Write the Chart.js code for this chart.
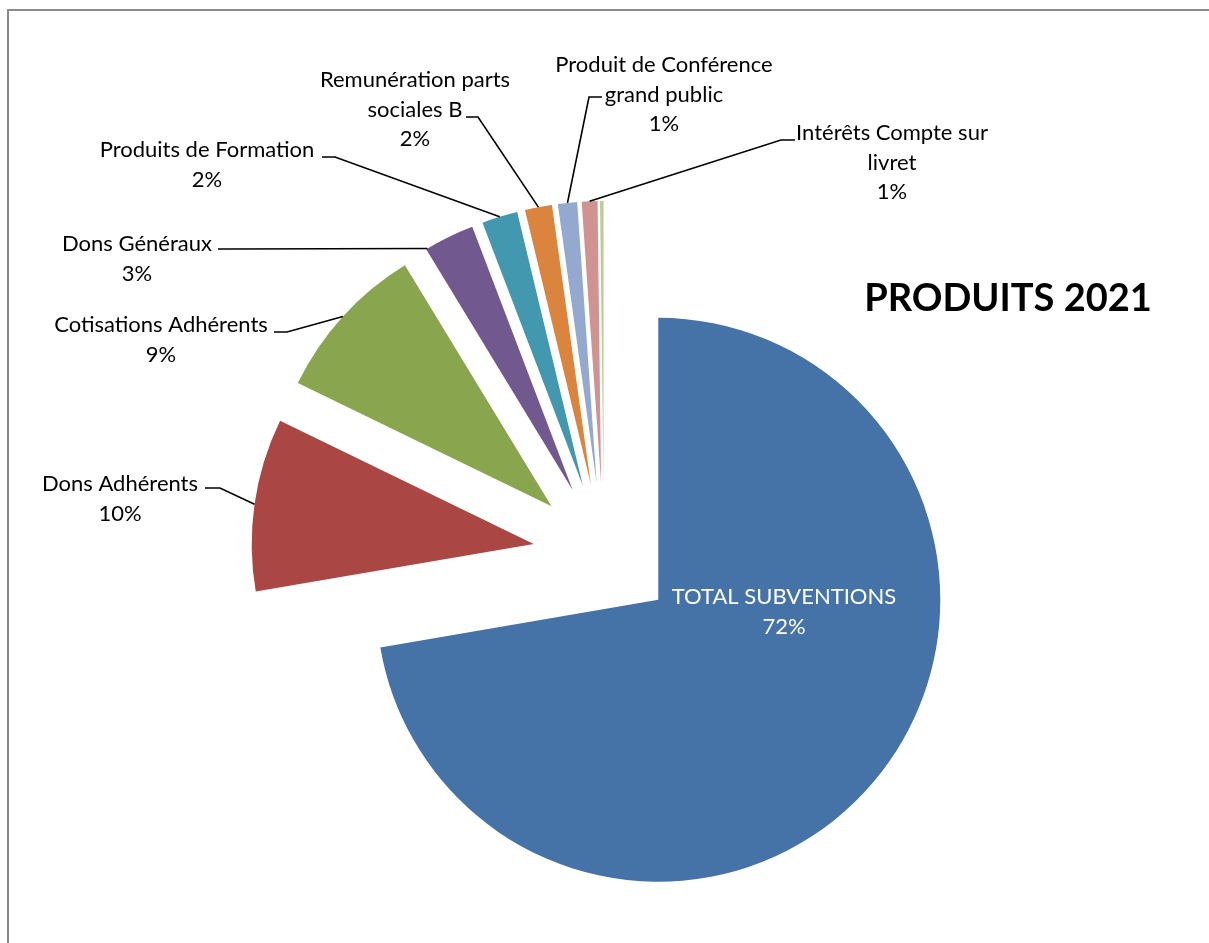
<!DOCTYPE html>
<html>
<head>
<meta charset="utf-8">
<script src="https://cdn.jsdelivr.net/npm/chart.js@4/dist/chart.umd.min.js"></script>
<style>
  html, body { margin: 0; padding: 0; background: #fff; }
  #wrap { position: relative; width: 1209px; height: 943px; overflow: hidden; }
</style>
</head>
<body>
<div id="wrap"><canvas id="produitsChart" width="1209" height="943"></canvas></div>
<script>
// data (percent of total)
const categories = [
  "TOTAL SUBVENTIONS",
  "Dons Adhérents",
  "Cotisations Adhérents",
  "Dons Généraux",
  "Produits de Formation",
  "Remunération parts sociales B",
  "Produit de Conférence grand public",
  "Intérêts Compte sur livret",
  "Autres"
];
const values = [72.3, 9.9, 9.1, 2.9, 2.05, 1.55, 1.1, 0.9, 0.2];
const colors = ["#4572A7", "#AA4643", "#89A54E", "#71588F", "#4198AF", "#DB843D", "#93A9CF", "#D19392", "#B9CD96"];

// label placement (x = centre of text block, y = first line, stub = elbow of leader line)
const labelLayout = [
  { x: 784, y: 597, wrap: 400, color: "#fff" },
  { x: 120, y: 484, wrap: 400, stub: [205, 220, 488], at: 0.5 },
  { x: 161, y: 325, wrap: 400, stub: [274, 287, 332], at: 0.5 },
  { x: 137, y: 244, wrap: 400, stub: [218, 231, 249], at: 0.03 },
  { x: 207, y: 150, wrap: 400, stub: [322, 335, 157], at: 0.5 },
  { x: 415, y: 80, wrap: 200, stub: [466, 478, 117], at: 0.5 },
  { x: 664, y: 65, wrap: 240, stub: [602, 589, 97], at: 0.5 },
  { x: 892, y: 133, wrap: 210, stub: [795, 781, 140], at: 0.5 },
  null
];

const EXPLODE = 71;
const FONT = "22px Lato";
const LINE_H = 29.5;

function wrapText(ctx, text, maxW) {
  const words = text.split(" ");
  const lines = [];
  let cur = "";
  words.forEach(w => {
    const test = cur ? cur + " " + w : w;
    if (cur && ctx.measureText(test).width > maxW) {
      lines.push(cur);
      cur = w;
    } else {
      cur = test;
    }
  });
  if (cur) lines.push(cur);
  return lines;
}

// move every slice out along its bisector, like an exploded Excel pie
const explodePlugin = {
  id: "explode",
  beforeDatasetDraw(chart, args) {
    const ctx = chart.ctx;
    args.meta.data.forEach(arc => {
      const mid = (arc.startAngle + arc.endAngle) / 2;
      ctx.save();
      ctx.translate(Math.cos(mid) * EXPLODE, Math.sin(mid) * EXPLODE);
      arc.draw(ctx);
      ctx.restore();
    });
    return false;
  }
};

const framePlugin = {
  id: "frame",
  beforeDraw(chart) {
    const ctx = chart.ctx;
    ctx.save();
    ctx.strokeStyle = "#8a8a8a";
    ctx.lineWidth = 2;
    ctx.beginPath();
    ctx.moveTo(1209, 10);
    ctx.lineTo(8, 10);
    ctx.lineTo(8, 943);
    ctx.stroke();
    ctx.restore();
  }
};

const labelPlugin = {
  id: "sliceLabels",
  afterDraw(chart) {
    const ctx = chart.ctx;
    const meta = chart.getDatasetMeta(0);
    const total = values.reduce((a, b) => a + b, 0);
    ctx.save();
    ctx.font = FONT;
    ctx.textAlign = "center";
    ctx.textBaseline = "middle";
    meta.data.forEach((arc, i) => {
      const lay = labelLayout[i];
      if (!lay) return;
      const pct = Math.round((values[i] / total) * 100) + "%";
      const lines = wrapText(ctx, categories[i], lay.wrap).concat([pct]);
      ctx.fillStyle = lay.color || "#000";
      lines.forEach((l, k) => ctx.fillText(l, lay.x, lay.y + k * LINE_H));

      if (lay.stub) {
        const mid = (arc.startAngle + arc.endAngle) / 2;
        const a = arc.startAngle + (arc.endAngle - arc.startAngle) * lay.at;
        const px = arc.x + Math.cos(mid) * EXPLODE + Math.cos(a) * arc.outerRadius;
        const py = arc.y + Math.sin(mid) * EXPLODE + Math.sin(a) * arc.outerRadius;
        ctx.strokeStyle = "#000";
        ctx.lineWidth = 1.6;
        ctx.beginPath();
        ctx.moveTo(lay.stub[0], lay.stub[2]);
        ctx.lineTo(lay.stub[1], lay.stub[2]);
        ctx.lineTo(px, py);
        ctx.stroke();
      }
    });

    ctx.fillStyle = "#000";
    ctx.font = "bold 38px Lato";
    ctx.fillText("PRODUITS 2021", 1008, 299);
    ctx.restore();
  }
};

new Chart(document.getElementById("produitsChart").getContext("2d"), {
  type: "pie",
  data: {
    labels: categories,
    datasets: [
      {
        data: values,
        backgroundColor: colors,
        borderWidth: 0
      }
    ]
  },
  options: {
    responsive: false,
    animation: false,
    events: [],
    radius: 282,
    layout: { padding: { left: 0, right: 1, top: 165, bottom: 0 } },
    plugins: {
      legend: { display: false },
      tooltip: { enabled: false },
      title: { display: false }
    }
  },
  plugins: [framePlugin, explodePlugin, labelPlugin]
});
</script>
</body>
</html>
